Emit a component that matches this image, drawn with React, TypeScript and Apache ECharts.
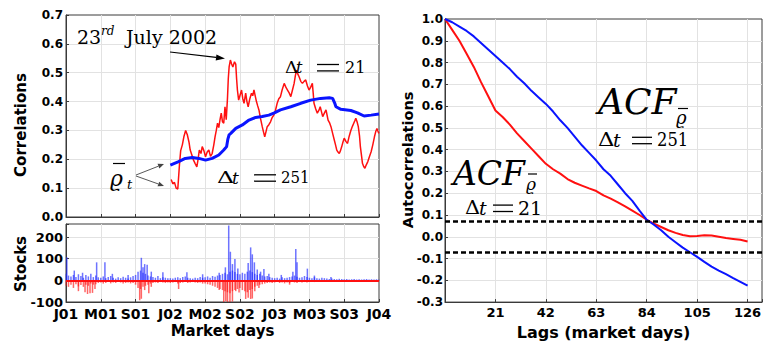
import React, { useEffect, useRef } from 'react';
import * as echarts from 'echarts';

// ---------- data ----------
const dateLabels = ['J01', 'M01', 'S01', 'J02', 'M02', 'S02', 'J03', 'M03', 'S03', 'J04'];
const DAYS_PER_TICK = 84;

// mean correlation, window 21 days: [market day, value]
const corr21: [number, number][] = [
  [254, 0.13], [258, 0.115], [262, 0.12], [266, 0.1], [270, 0.097], [274, 0.18], [277, 0.23], [281, 0.25],
  [285, 0.28], [289, 0.3], [293, 0.285], [297, 0.26], [300, 0.232], [304, 0.215], [308, 0.197], [312, 0.185],
  [316, 0.174], [319, 0.2], [322, 0.232], [326, 0.22], [329, 0.244], [333, 0.23], [337, 0.209], [341, 0.225],
  [345, 0.232], [349, 0.21], [353, 0.22], [357, 0.25], [360, 0.278], [363, 0.3], [366, 0.325], [369, 0.31],
  [372, 0.337], [375, 0.36], [378, 0.33], [381, 0.325], [384, 0.382], [387, 0.337], [390, 0.411], [392, 0.48],
  [394, 0.52], [397, 0.544], [400, 0.53], [403, 0.52], [407, 0.538], [410, 0.53], [412, 0.48], [414, 0.44],
  [417, 0.405], [420, 0.42], [424, 0.44], [427, 0.41], [430, 0.394], [434, 0.429], [437, 0.4], [440, 0.382],
  [444, 0.41], [448, 0.429], [451, 0.42], [454, 0.44], [457, 0.42], [460, 0.4], [463, 0.385], [466, 0.371],
  [470, 0.34], [474, 0.313], [477, 0.295], [480, 0.278], [483, 0.295], [486, 0.313], [490, 0.32], [494, 0.33],
  [498, 0.345], [502, 0.353], [506, 0.37], [510, 0.394], [514, 0.41], [518, 0.417], [522, 0.44], [527, 0.463],
  [531, 0.45], [535, 0.44], [539, 0.43], [543, 0.417], [547, 0.44], [551, 0.463], [554, 0.49], [557, 0.509],
  [560, 0.495], [563, 0.486], [567, 0.47], [571, 0.463], [575, 0.47], [579, 0.475], [583, 0.455], [587, 0.44],
  [591, 0.45], [595, 0.463], [597, 0.43], [599, 0.394], [603, 0.375], [607, 0.36], [611, 0.37], [614, 0.382],
  [617, 0.365], [620, 0.348], [624, 0.36], [628, 0.371], [631, 0.35], [633, 0.336], [637, 0.325], [640, 0.313],
  [644, 0.29], [648, 0.267], [651, 0.25], [654, 0.232], [657, 0.225], [660, 0.22], [663, 0.23], [666, 0.244],
  [669, 0.26], [672, 0.273], [676, 0.262], [680, 0.255], [684, 0.28], [688, 0.3], [692, 0.315], [695, 0.325],
  [698, 0.335], [700, 0.342], [703, 0.33], [706, 0.313], [709, 0.28], [711, 0.244], [714, 0.21], [716, 0.186],
  [719, 0.175], [722, 0.169], [725, 0.18], [729, 0.192], [733, 0.21], [737, 0.226], [741, 0.25], [745, 0.278],
  [748, 0.295], [751, 0.307], [754, 0.295], [756, 0.29],
];

// mean correlation, window 251 days
const corr251: [number, number][] = [
  [252, 0.18], [272, 0.192], [288, 0.203], [305, 0.206], [321, 0.203], [337, 0.197], [353, 0.203], [369, 0.215],
  [381, 0.232], [388, 0.244], [391, 0.27], [394, 0.285], [398, 0.29], [410, 0.307], [426, 0.319], [442, 0.336],
  [458, 0.345], [474, 0.348], [490, 0.353], [502, 0.36], [518, 0.371], [543, 0.382], [567, 0.394], [591, 0.405],
  [615, 0.411], [636, 0.413], [644, 0.411], [649, 0.395], [652, 0.382], [664, 0.373], [688, 0.369], [704, 0.361],
  [720, 0.35], [737, 0.353], [756, 0.357],
];

// stocks counts, sampled every 6 market days from J01
const STOCK_STEP = 6;
const stocksUpBase = [
  30, 22, 18, 25, 15, 28, 20, 12, 25, 18, 30, 15, 22, 14,
  12, 18, 10, 15, 20, 12, 8, 14, 10, 16, 12, 9, 14, 20,
  25, 40, 45, 35, 30, 22, 18, 15, 12, 20, 10, 14, 12, 10,
  10, 8, 12, 14, 10, 15, 18, 12, 10, 8, 12, 10, 15, 12,
  14, 18, 12, 20, 16, 22, 25, 30, 35, 28, 40, 45, 38, 30,
  28, 35, 30, 40, 45, 38, 30, 25, 30, 22, 18, 20, 15, 12,
  10, 12, 8, 14, 10, 12, 15, 18, 22, 16, 12, 14, 20, 15,
  12, 10, 14, 10, 8, 12, 10, 8, 6, 8, 6, 5, 7, 6,
  5, 6, 4, 5, 6, 4, 5, 4, 5, 6, 4, 5, 4, 5, 4,
];
const stocksDownBase = [
  -25, -30, -20, -35, -18, -28, -22, -30, -20, -25, -15, -20, -18, -12,
  -10, -15, -12, -8, -14, -10, -12, -8, -10, -15, -12, -10, -14, -12,
  -20, -35, -40, -30, -25, -20, -15, -12, -10, -12, -8, -10, -12, -10,
  -12, -10, -8, -15, -12, -10, -8, -12, -10, -8, -10, -12, -10, -15,
  -15, -18, -20, -25, -30, -35, -40, -45, -50, -55, -60, -50, -45, -40,
  -35, -45, -50, -55, -45, -40, -30, -25, -20, -18, -15, -12, -10, -12,
  -10, -8, -12, -10, -14, -10, -12, -8, -10, -12, -8, -10, -8, -10,
  -8, -6, -8, -5, -6, -8, -5, -6, -5, -4, -6, -5, -4, -5,
  -4, -5, -3, -4, -5, -3, -4, -3, -4, -5, -3, -4, -3, -4, -3,
];
const stocksUpSpikes: [number, number][] = [
  [2, 106], [20, 45], [40, 35], [74, 83], [94, 83], [112, 30], [150, 25], [182, 104], [186, 60], [190, 75],
  [196, 72], [206, 40], [234, 37], [292, 37], [330, 28], [370, 35], [385, 60], [393, 253], [397, 132], [402, 75],
  [408, 98], [415, 55], [440, 80], [446, 152], [450, 120], [455, 83], [462, 50], [470, 40], [478, 52], [490, 30],
  [520, 25], [548, 40], [555, 145], [558, 83], [583, 54], [600, 22], [640, 15],
];
const stocksDownSpikes: [number, number][] = [
  [30, -50], [46, -55], [52, -63], [58, -60], [64, -58], [70, -40], [178, -92], [182, -85], [190, -45],
  [200, -60], [206, -30], [272, -40], [370, -45], [381, -100], [386, -95], [390, -100], [396, -100],
  [402, -98], [410, -50], [418, -56], [434, -86], [440, -80], [446, -86], [450, -84], [456, -50], [466, -35],
  [540, -20],
];

// autocorrelation functions
const acfLags = [0, 3, 6, 9, 12, 15, 18, 21, 24, 27, 30, 33, 36, 39, 42, 45, 48, 51, 54, 57, 60, 63, 66, 69, 72,
  75, 78, 81, 84, 87, 90, 93, 96, 99, 102, 105, 108, 111, 114, 117, 120, 123, 126];
const acf21 = [1.0, 0.95, 0.9, 0.84, 0.78, 0.71, 0.645, 0.58, 0.55, 0.515, 0.475, 0.44, 0.405, 0.37, 0.335, 0.31,
  0.29, 0.265, 0.248, 0.235, 0.222, 0.21, 0.19, 0.175, 0.158, 0.14, 0.12, 0.1, 0.078, 0.06, 0.045, 0.03, 0.018,
  0.008, 0.002, 0.004, 0.007, 0.006, 0.0, -0.006, -0.01, -0.014, -0.022];
const acf251 = [1.0, 0.985, 0.965, 0.945, 0.92, 0.89, 0.86, 0.83, 0.8, 0.77, 0.735, 0.705, 0.67, 0.64, 0.61, 0.575,
  0.535, 0.5, 0.46, 0.42, 0.385, 0.35, 0.31, 0.28, 0.24, 0.2, 0.165, 0.12, 0.078, 0.055, 0.03, 0.0, -0.025, -0.05,
  -0.071, -0.092, -0.115, -0.137, -0.155, -0.172, -0.19, -0.207, -0.224];
const confBand = 0.074;

// ---------- helpers ----------
const SANS = '"DejaVu Sans", sans-serif';
const SERIF = '"DejaVu Serif", serif';
const GRID_LINE = '#e2e2e2';
const BOX = '#3a3a3a';

function txt(text: string, x: number, y: number, size: number, italic = false, scaleX = 1) {
  return {
    type: 'text', x, y, z: 100, scaleX, originX: 0, originY: 0,
    style: { text, fontSize: size, fontFamily: SERIF, fontStyle: italic ? 'italic' : 'normal', fill: '#000', align: 'left', verticalAlign: 'middle' },
  };
}
function seg(x1: number, y1: number, x2: number, y2: number, w = 1.3, color = '#000') {
  return { type: 'line', z: 100, shape: { x1, y1, x2, y2 }, style: { stroke: color, lineWidth: w } };
}
function arrow(x1: number, y1: number, x2: number, y2: number, head = 8, halfW = 3, color = '#000', w = 1.2) {
  const dx = x2 - x1, dy = y2 - y1, L = Math.hypot(dx, dy), ux = dx / L, uy = dy / L;
  const bx = x2 - ux * head, by = y2 - uy * head;
  return [
    seg(x1, y1, bx, by, w, color),
    { type: 'polygon', z: 100, shape: { points: [[x2, y2], [bx - uy * halfW, by + ux * halfW], [bx + uy * halfW, by - ux * halfW]] }, style: { fill: color } },
  ];
}
function equals(x1: number, x2: number, yc: number, gap = 3.2, w = 1.3) {
  return [seg(x1, yc - gap, x2, yc - gap, w), seg(x1, yc + gap, x2, yc + gap, w)];
}
function rotName(text: string, x: number, y: number, size: number) {
  return {
    type: 'text', x, y, rotation: Math.PI / 2, z: 100,
    style: { text, fontSize: size, fontFamily: SANS, fontWeight: 'bold', fill: '#000', align: 'center', verticalAlign: 'middle' },
  };
}

const tickLabel = (size: number) => ({ fontFamily: SANS, fontWeight: 'bold', fontSize: size, color: '#000' });
const splitLine = { show: true, showMinLine: false, showMaxLine: false, lineStyle: { color: GRID_LINE, width: 1 } };
const axisTick = { show: true, inside: true, length: 3, lineStyle: { color: BOX } };
const axisLine = { show: true, onZero: false, lineStyle: { color: BOX, width: 1 } };

function buildOption() {
  const stocksUp = stocksUpBase.map((v, i) => [i * STOCK_STEP, v]).concat(stocksUpSpikes as any);
  const stocksDown = stocksDownBase.map((v, i) => [i * STOCK_STEP, v]).concat(stocksDownSpikes as any);
  const acf21Data = acfLags.map((l, i) => [l, acf21[i]]);
  const acf251Data = acfLags.map((l, i) => [l, acf251[i]]);

  const graphic: any[] = [
    rotName('Correlations', 21, 125, 15),
    rotName('Stocks', 21, 264, 15),
    rotName('Autocorrelations', 408, 160, 14.5),
    // 23rd July 2002
    txt('23', 77, 37, 19),
    txt('rd', 101, 31, 12, true),
    txt('July 2002', 126, 37, 19),
    ...arrow(170, 52, 225, 58.5, 9, 3),
    // Δt = 21 (top-left)
    txt('Δ', 285, 67.5, 16, false, 1.12),
    txt('t', 296, 67.5, 16, true),
    ...equals(317, 339, 67.7),
    txt('21', 345, 67.5, 16),
    // Δt = 251 (left)
    txt('Δ', 217, 177.5, 17, false, 1.4),
    txt('t', 232, 177.5, 17, true),
    ...equals(254, 276, 178),
    txt('251', 281, 177.5, 17, false, 0.88),
    // rho bar t
    txt('ϱ', 110, 178, 22, true),
    seg(113, 163.5, 125, 163.5, 1.2),
    txt('t', 127, 184, 13, true),
    ...arrow(136, 175, 164, 164, 6, 2.5, '#444', 0.9),
    ...arrow(136, 176, 164, 186, 6, 2.5, '#444', 0.9),
    // ACF (251)
    txt('ACF', 598, 101, 36, true),
    txt('ϱ', 676, 117, 18, true),
    seg(678, 108.5, 688, 108.5, 1.2),
    txt('Δ', 598, 140, 19, false, 1.2),
    txt('t', 613, 140, 19, true),
    ...equals(632, 652, 140.5),
    txt('251', 657, 140, 19, false, 0.86),
    // ACF (21)
    txt('ACF', 453, 173.5, 33, true),
    txt('ϱ', 526, 184, 17, true),
    seg(528, 174, 537, 174, 1.2),
    txt('Δ', 465, 207.5, 19, false, 1.1),
    txt('t', 479, 207.5, 19, true),
    ...equals(493, 513, 208.3),
    txt('21', 518, 207.5, 19),
  ];

  const gridBase = { show: true, borderColor: BOX, borderWidth: 1, backgroundColor: '#fff' };

  return {
    animation: false,
    backgroundColor: '#fff',
    grid: [
      { ...gridBase, left: 66, top: 15, width: 313, height: 202 },
      { ...gridBase, left: 66, top: 224, width: 313, height: 78 },
      { ...gridBase, left: 445, top: 19, width: 317, height: 284 },
    ],
    xAxis: [
      {
        type: 'value', gridIndex: 0, min: 0, max: 756, interval: DAYS_PER_TICK,
        axisLabel: { show: false }, axisLine, axisTick, splitLine,
      },
      {
        type: 'value', gridIndex: 1, min: 0, max: 756, interval: DAYS_PER_TICK,
        axisLine, axisTick, splitLine,
        axisLabel: {
          ...tickLabel(14), margin: 5,
          formatter: (v: number) => (v % DAYS_PER_TICK === 0 ? dateLabels[Math.round(v / DAYS_PER_TICK)] ?? '' : ''),
        },
        name: 'Market days', nameLocation: 'middle', nameGap: 21,
        nameTextStyle: { fontFamily: SANS, fontWeight: 'bold', fontSize: 15, color: '#000' },
      },
      {
        type: 'value', gridIndex: 2, min: 0, max: 132, interval: 21,
        axisLine, axisTick, splitLine,
        axisLabel: {
          ...tickLabel(13), margin: 4,
          formatter: (v: number) => (v > 0 && v % 21 === 0 ? String(v) : ''),
        },
        name: 'Lags (market days)', nameLocation: 'middle', nameGap: 20,
        nameTextStyle: { fontFamily: SANS, fontWeight: 'bold', fontSize: 16, color: '#000' },
      },
    ],
    yAxis: [
      {
        type: 'value', gridIndex: 0, min: 0, max: 0.7, interval: 0.1,
        axisLine, axisTick, splitLine,
        axisLabel: { ...tickLabel(12), margin: 3, formatter: (v: number) => v.toFixed(1) },
      },
      {
        type: 'value', gridIndex: 1, min: -100, max: 260, interval: 100,
        axisLine, axisTick, splitLine,
        axisLabel: {
          ...tickLabel(13), margin: 3,
          formatter: (v: number) => (Math.round(v) % 100 === 0 ? String(Math.round(v)) : ''),
        },
      },
      {
        type: 'value', gridIndex: 2, min: -0.3, max: 1.0, interval: 0.1,
        axisLine, axisTick, splitLine,
        axisLabel: {
          ...tickLabel(12), margin: 2,
          formatter: (v: number) => (Math.abs(v) < 1e-9 ? 0 : v).toFixed(1),
        },
      },
    ],
    series: [
      {
        type: 'line', xAxisIndex: 0, yAxisIndex: 0, data: corr21, showSymbol: false, symbol: 'none',
        lineStyle: { color: '#ff1010', width: 1.5 }, itemStyle: { color: '#ff1010' }, z: 3,
      },
      {
        type: 'line', xAxisIndex: 0, yAxisIndex: 0, data: corr251, showSymbol: false, symbol: 'none',
        lineStyle: { color: '#0a14ff', width: 3 }, itemStyle: { color: '#0a14ff' }, z: 4,
      },
      {
        type: 'bar', xAxisIndex: 1, yAxisIndex: 1, data: stocksUp, barWidth: 1.5, barGap: '-100%',
        itemStyle: { color: 'rgba(30,40,255,0.65)' }, z: 3,
      },
      {
        type: 'bar', xAxisIndex: 1, yAxisIndex: 1, data: stocksDown, barWidth: 1.5, barGap: '-100%',
        itemStyle: { color: 'rgba(255,20,20,0.65)' }, z: 4,
        markLine: {
          silent: true, symbol: 'none', label: { show: false },
          lineStyle: { color: '#ff1010', width: 2.2, type: 'solid' },
          data: [{ yAxis: 0 }],
        },
      },
      {
        type: 'line', xAxisIndex: 2, yAxisIndex: 2, data: acf21Data, showSymbol: false, symbol: 'none',
        lineStyle: { color: '#ff1010', width: 2 }, itemStyle: { color: '#ff1010' }, z: 3,
        markLine: {
          silent: true, symbol: 'none', label: { show: false },
          lineStyle: { color: '#000', width: 2.5, type: [5, 3] },
          data: [{ yAxis: confBand }, { yAxis: -confBand }],
        },
      },
      {
        type: 'line', xAxisIndex: 2, yAxisIndex: 2, data: acf251Data, showSymbol: false, symbol: 'none',
        lineStyle: { color: '#0a14ff', width: 2 }, itemStyle: { color: '#0a14ff' }, z: 4,
      },
    ],
    graphic,
  };
}

export default function App() {
  const ref = useRef<HTMLDivElement>(null);
  useEffect(() => {
    if (!ref.current) return;
    const chart = echarts.init(ref.current, null, { renderer: 'svg' });
    chart.setOption(buildOption() as any);
    return () => chart.dispose();
  }, []);
  return (
    <div
      ref={ref}
      style={{ position: 'absolute', left: 0, top: 0, width: 765, height: 345, background: '#fff' }}
    />
  );
}
